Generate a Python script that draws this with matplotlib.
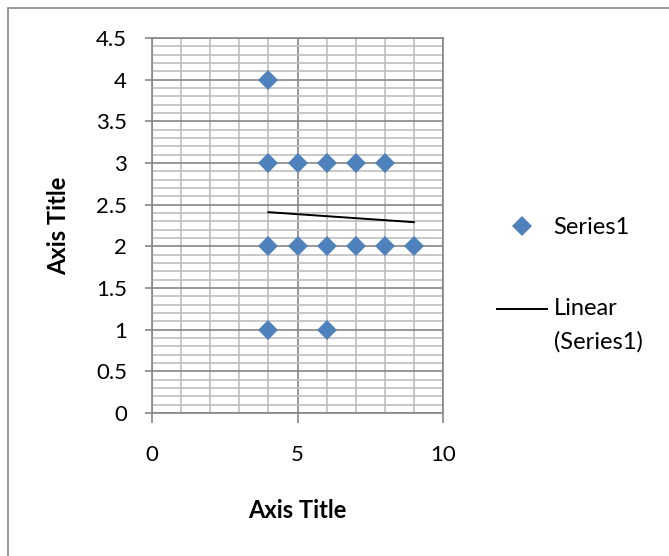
import matplotlib
matplotlib.use("Agg")
from matplotlib import pyplot as plt
from matplotlib.legend_handler import HandlerLine2D
from matplotlib.patches import Rectangle
from matplotlib.ticker import MultipleLocator

plt.rcParams['font.family'] = ['Lato', 'DejaVu Sans']

# scatter data (Series1)
x_vals = [4, 4, 5, 6, 7, 8, 4, 5, 6, 7, 8, 9, 4, 6]
y_vals = [4, 3, 3, 3, 3, 3, 2, 2, 2, 2, 2, 2, 1, 1]

# linear trendline
trend_x = [4, 9]
trend_y = [2.41, 2.29]

series_label = "Series1"
trend_label = "Linear\n(Series1)"
axis_title = "Axis Title"

blue = "#4F81BD"
major_grey = "#868686"
minor_grey = "#BFBFBF"
tick_fs = 16
leg_fs = 17
title_fs = 17


class ShiftedLineHandler(HandlerLine2D):
    # put the trend key next to the first line of the label, like Excel does
    def create_artists(self, legend, orig_handle, xdescent, ydescent,
                       width, height, fontsize, trans):
        artists = super().create_artists(legend, orig_handle, xdescent, ydescent,
                                         width, height, fontsize, trans)
        for a in artists:
            a.set_ydata([y + 0.72 * fontsize for y in a.get_ydata()])
        return artists


fig = plt.figure(figsize=(6.69, 5.56), dpi=100)
ax = fig.add_axes([152 / 669, 1 - 413 / 556, 291 / 669, 375 / 556])

ax.plot(x_vals, y_vals, linestyle="none", marker="D", markersize=10,
        color=blue, markeredgewidth=0, label=series_label, zorder=3)
trend, = ax.plot(trend_x, trend_y, color="black", linewidth=1.4,
                 label=trend_label, zorder=4)

ax.set_xlim(0, 10)
ax.set_ylim(0, 4.5)
ax.xaxis.set_major_locator(MultipleLocator(5))
ax.xaxis.set_minor_locator(MultipleLocator(1))
ax.yaxis.set_major_locator(MultipleLocator(0.5))
ax.yaxis.set_minor_locator(MultipleLocator(0.1))
ax.yaxis.set_major_formatter(lambda v, pos: f"{v:g}")

ax.grid(which="minor", color=minor_grey, linewidth=1.2, zorder=0)
ax.grid(which="major", color=major_grey, linewidth=1.2, zorder=1)
ax.set_axisbelow(True)
for side in ax.spines:
    ax.spines[side].set_color(major_grey)
    ax.spines[side].set_linewidth(1.2)

ax.tick_params(which="minor", length=0)
ax.tick_params(axis="y", which="major", length=5, width=1.2, color=major_grey,
               pad=13, labelsize=tick_fs)
ax.tick_params(axis="x", which="major", length=7, width=1.2, color=major_grey,
               pad=16, labelsize=tick_fs)

ax.set_xlabel(axis_title, fontsize=title_fs, fontweight="bold")
ax.xaxis.set_label_coords(0.5, -0.259)
ax.xaxis.label.set_va("center")
ax.set_ylabel(axis_title, fontsize=title_fs, fontweight="bold")
ax.yaxis.set_label_coords(-0.32, 0.5)
ax.yaxis.label.set_va("center")

leg = ax.legend(loc="upper left", bbox_to_anchor=(497 / 669, 1 - 217 / 556),
                bbox_transform=fig.transFigure, frameon=False, fontsize=leg_fs,
                handlelength=2.1, handletextpad=0.3, labelspacing=2.55,
                borderpad=0, borderaxespad=0,
                handler_map={trend: ShiftedLineHandler()})
for t in leg.get_texts():
    t.set_linespacing(1.7)

# chart area border
fig.add_artist(Rectangle((8 / 669, -0.05), 1.0, 1.05 - 8 / 556,
                         transform=fig.transFigure, fill=False,
                         edgecolor=major_grey, linewidth=1.2))

fig.savefig("out.png", dpi=100)
